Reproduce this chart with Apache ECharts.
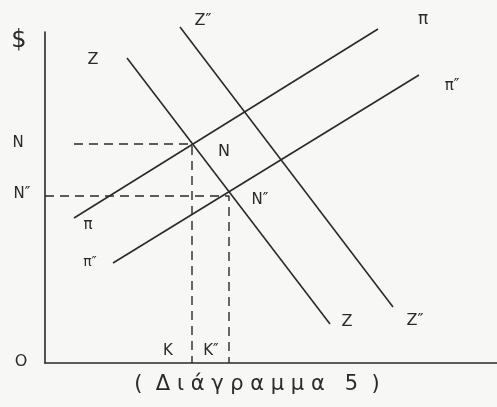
<!DOCTYPE html>
<html>
<head>
<meta charset="utf-8">
<script src="https://cdn.jsdelivr.net/npm/echarts@6/dist/echarts.min.js"></script>
<style>
  html, body { margin: 0; padding: 0; background: #f7f7f5; }
  #chart { width: 497px; height: 407px; }
</style>
</head>
<body>
<div id="chart"></div>
<script>
// line end points, in axis units (x right, y up from O)
const zLine = [[82, 305], [285, 39]];
const z2Line = [[135, 336], [348, 56]];
const piLine = [[29, 145], [333, 334]];
const pi2Line = [[68, 100], [374, 288]];
// equilibrium points N and N''
const pointN = [147, 219];
const pointN2 = [184, 167];
const dashStartN = 29;   // where the N guide starts on the left

let chart = echarts.init(document.getElementById('chart'));

const ink = '#2a2a2a';
function solid(data) {
  return {
    type: 'line', data: data, symbol: 'none', clip: false, silent: true,
    lineStyle: { color: ink, width: 1.6 }
  };
}
function dashed(data) {
  return {
    type: 'line', data: data, symbol: 'none', clip: false, silent: true,
    lineStyle: { color: ink, width: 1.4, type: [9, 6] }
  };
}
function txt(x, y, s, size) {
  return {
    type: 'text', x: x, y: y,
    style: {
      text: s, fill: ink, font: (size || 15) + 'px "DejaVu Sans"',
      textAlign: 'center', textVerticalAlign: 'middle'
    }
  };
}

var option = {
  animation: false,
  backgroundColor: '#f7f7f5',
  grid: { left: 45, right: 0, top: 32, bottom: 44 },
  xAxis: {
    type: 'value', min: 0, max: 452,
    axisLine: { lineStyle: { color: ink, width: 1.6 } },
    axisTick: { show: false }, axisLabel: { show: false }, splitLine: { show: false }
  },
  yAxis: {
    type: 'value', min: 0, max: 331,
    axisLine: { show: true, lineStyle: { color: ink, width: 1.6 } },
    axisTick: { show: false }, axisLabel: { show: false }, splitLine: { show: false }
  },
  series: [
    solid(zLine),
    solid(z2Line),
    solid(piLine),
    solid(pi2Line),
    dashed([[dashStartN, pointN[1]], pointN, [pointN[0], 0]]),
    dashed([[0, pointN2[1]], pointN2, [pointN2[0], 0]])
  ],
  graphic: [
    txt(19, 41, '$', 24),
    txt(93, 60, 'Z', 16),
    txt(203, 21, 'Z″', 16),
    txt(423, 20, 'π', 17),
    txt(452, 86, 'π″', 15),
    txt(18, 143, 'N', 15),
    txt(22, 194, 'N″', 15),
    txt(224, 152, 'N', 16),
    txt(260, 200, 'N″', 15),
    txt(88, 225, 'π', 15),
    txt(90, 262, 'π″', 14),
    txt(347, 322, 'Z', 16),
    txt(415, 321, 'Z″', 16),
    txt(21, 362, 'O', 16),
    txt(168, 351, 'K', 15),
    txt(211, 351, 'K″', 15),
    txt(257, 385, '(  Δ ι ά γ ρ α μ μ α   5  )', 21)
  ]
};
chart.setOption(option);
</script>
</body>
</html>
